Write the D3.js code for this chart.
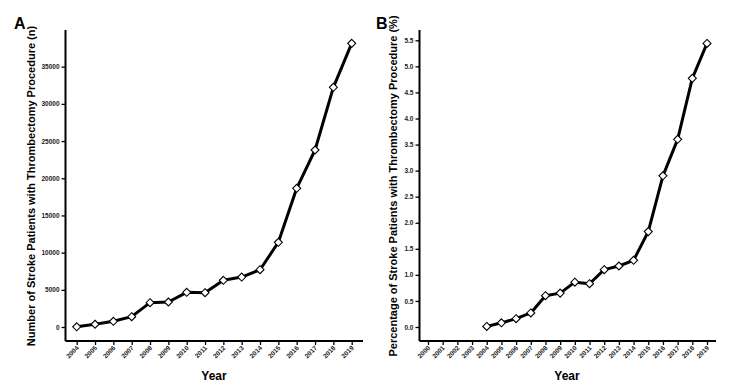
<!DOCTYPE html>
<html><head><meta charset="utf-8">
<script src="https://cdn.jsdelivr.net/npm/d3@7"></script>
<style>
html,body{margin:0;padding:0;background:#fff;}
svg{display:block;font-family:"Liberation Sans",Arial,sans-serif;}
</style></head>
<body><svg id="c" width="731" height="392"></svg>
<script>
// Panel A: number of patients
const yearsA = [2004,2005,2006,2007,2008,2009,2010,2011,2012,2013,2014,2015,2016,2017,2018,2019];
const countA = [30,370,770,1390,3270,3360,4660,4610,6280,6720,7700,11390,18650,23800,32230,38140];
const yTicksA = [0,5000,10000,15000,20000,25000,30000,35000];
// Panel B: percentage
const yearsBAxis = [2000,2001,2002,2003,2004,2005,2006,2007,2008,2009,2010,2011,2012,2013,2014,2015,2016,2017,2018,2019];
const yearsB = [2004,2005,2006,2007,2008,2009,2010,2011,2012,2013,2014,2015,2016,2017,2018,2019];
const pctB = [0.01,0.08,0.16,0.27,0.60,0.65,0.86,0.83,1.10,1.17,1.28,1.83,2.90,3.60,4.77,5.44];
const yTicksB = [0,0.5,1,1.5,2,2.5,3,3.5,4,4.5,5,5.5];

const svg = d3.select("#c");

function panel(o){
  const g = svg.append("g");
  const x = d3.scalePoint().domain(o.axisYears).range([o.x0, o.x1]);
  const y = d3.scaleLinear().domain(o.ydom).range([o.yBottom, o.yTop]);
  // axes
  const yAxis = d3.axisLeft(y).tickValues(o.yTicks).tickSize(4).tickPadding(2).tickFormat(o.fmt);
  const ya = g.append("g").attr("transform", `translate(${o.axisX},0)`).call(yAxis);
  ya.select(".domain").attr("d", `M0,${o.axisTop}V${o.axisY}`).attr("stroke-width",2);
  ya.selectAll(".tick line").attr("stroke-width",1.3);
  ya.selectAll(".tick text").attr("font-size",6.5).attr("font-weight","bold").attr("fill","#222");
  const xAxis = d3.axisBottom(x).tickSize(4).tickPadding(2);
  const xa = g.append("g").attr("transform", `translate(0,${o.axisY})`).call(xAxis);
  xa.select(".domain").attr("d", `M${o.axisX},0H${o.axisRight}`).attr("stroke-width",2);
  xa.selectAll(".tick line").attr("stroke-width",1.3);
  xa.selectAll(".tick text").attr("font-size",6.5).attr("font-weight","bold").attr("fill","#222")
    .attr("text-anchor","end").attr("dy",0).attr("y",0)
    .attr("transform","translate(2,7.5) rotate(-45)");
  // line
  const data = o.years.map((yr,i)=>({yr, v:o.vals[i]}));
  g.append("path").datum(data).attr("fill","none").attr("stroke","#000").attr("stroke-width",3)
    .attr("stroke-linejoin","round")
    .attr("d", d3.line().x(d=>x(d.yr)).y(d=>y(d.v)));
  g.selectAll(".m").data(data).enter().append("path")
    .attr("d","M0,-4L4,0L0,4L-4,0Z")
    .attr("transform", d=>`translate(${x(d.yr)},${y(d.v)})`)
    .attr("fill","#fff").attr("stroke","#000").attr("stroke-width",1.1);
  // titles
  g.append("text").attr("x",o.letterX).attr("y",29).attr("font-size",16).attr("font-weight","bold").text(o.letter);
  g.append("text").attr("transform",`translate(${o.ytX},${o.ytY}) rotate(-90)`).attr("text-anchor","middle")
    .attr("font-size",11).attr("font-weight","bold").text(o.ytitle);
  g.append("text").attr("x",o.xtX).attr("y",380).attr("text-anchor","middle")
    .attr("font-size",12).attr("font-weight","bold").text("Year");
}

panel({axisYears: yearsA, years: yearsA, vals: countA, yTicks: yTicksA, fmt: d3.format("d"),
  x0:76.7, x1:351.7, ydom:[0,35000], yBottom:327, yTop:66.7, axisX:65.5, axisY:341, axisTop:30, axisRight:363,
  letter:"A", letterX:14, ytX:35, ytY:186, ytitle:"Number of Stroke Patients with Thrombectomy Procedure (n)", xtX:214});

panel({axisYears: yearsBAxis, years: yearsB, vals: pctB, yTicks: yTicksB, fmt: d3.format(".1f"),
  x0:428, x1:707, ydom:[0,5.5], yBottom:327, yTop:40.3, axisX:419.5, axisY:341, axisTop:30, axisRight:716,
  letter:"B", letterX:376, ytX:397, ytY:186, ytitle:"Percentage of Stroke Patients with Thrombectomy Procedure (%)", xtX:567});
</script>
</body></html>
